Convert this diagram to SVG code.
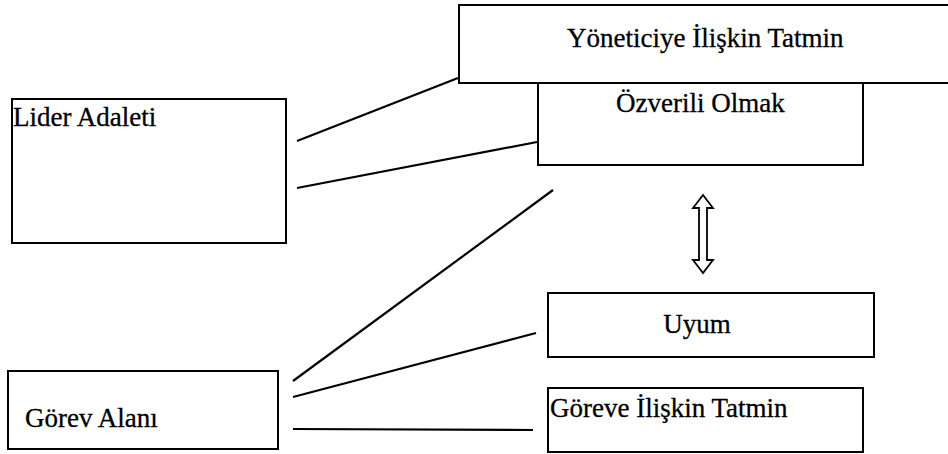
<svg xmlns="http://www.w3.org/2000/svg" width="948" height="454" viewBox="0 0 948 454">
<style>
.box{fill:#fff;stroke:#000;stroke-width:2}
.lbl{font-family:"Liberation Serif","Times New Roman",serif;font-size:27px;fill:#000;stroke:#000;stroke-width:0.3}
.conn line{stroke:#000;stroke-width:2.2}
</style>
<rect width="948" height="454" fill="#fff"/>
<g id="lider-adaleti"><rect class="box" x="12" y="99" width="274" height="144"/><text class="lbl" x="13" y="126">Lider Adaleti</text></g>
<g id="gorev-alani"><rect class="box" x="8" y="371" width="270" height="78"/><text class="lbl" x="25" y="427">Görev Alanı</text></g>
<g id="ozverili-olmak"><rect class="box" x="538" y="83" width="325" height="82"/><text class="lbl" x="616" y="112">Özverili Olmak</text></g>
<g id="yoneticiye-iliskin-tatmin"><rect class="box" x="459" y="5" width="495" height="78"/><text class="lbl" x="567" y="47">Yöneticiye İlişkin Tatmin</text></g>
<g id="uyum"><rect class="box" x="548" y="293" width="326" height="64"/><text class="lbl" x="697" y="333" text-anchor="middle">Uyum</text></g>
<g id="goreve-iliskin-tatmin"><rect class="box" x="548" y="388" width="315" height="64"/><text class="lbl" x="550" y="417">Göreve İlişkin Tatmin</text></g>
<g id="connectors" class="conn">
<line x1="297" y1="141" x2="458" y2="78"/>
<line x1="297" y1="188" x2="537" y2="142"/>
<line x1="293" y1="381" x2="553" y2="190"/>
<line x1="293" y1="397" x2="536" y2="333"/>
<line x1="293" y1="429" x2="533" y2="430"/>
<polygon points="703,195 713,208 707,208 707,260 713,260 703,273 693,260 699,260 699,208 693,208" fill="#fff" stroke="#000" stroke-width="1.8"/>
</g>
</svg>
